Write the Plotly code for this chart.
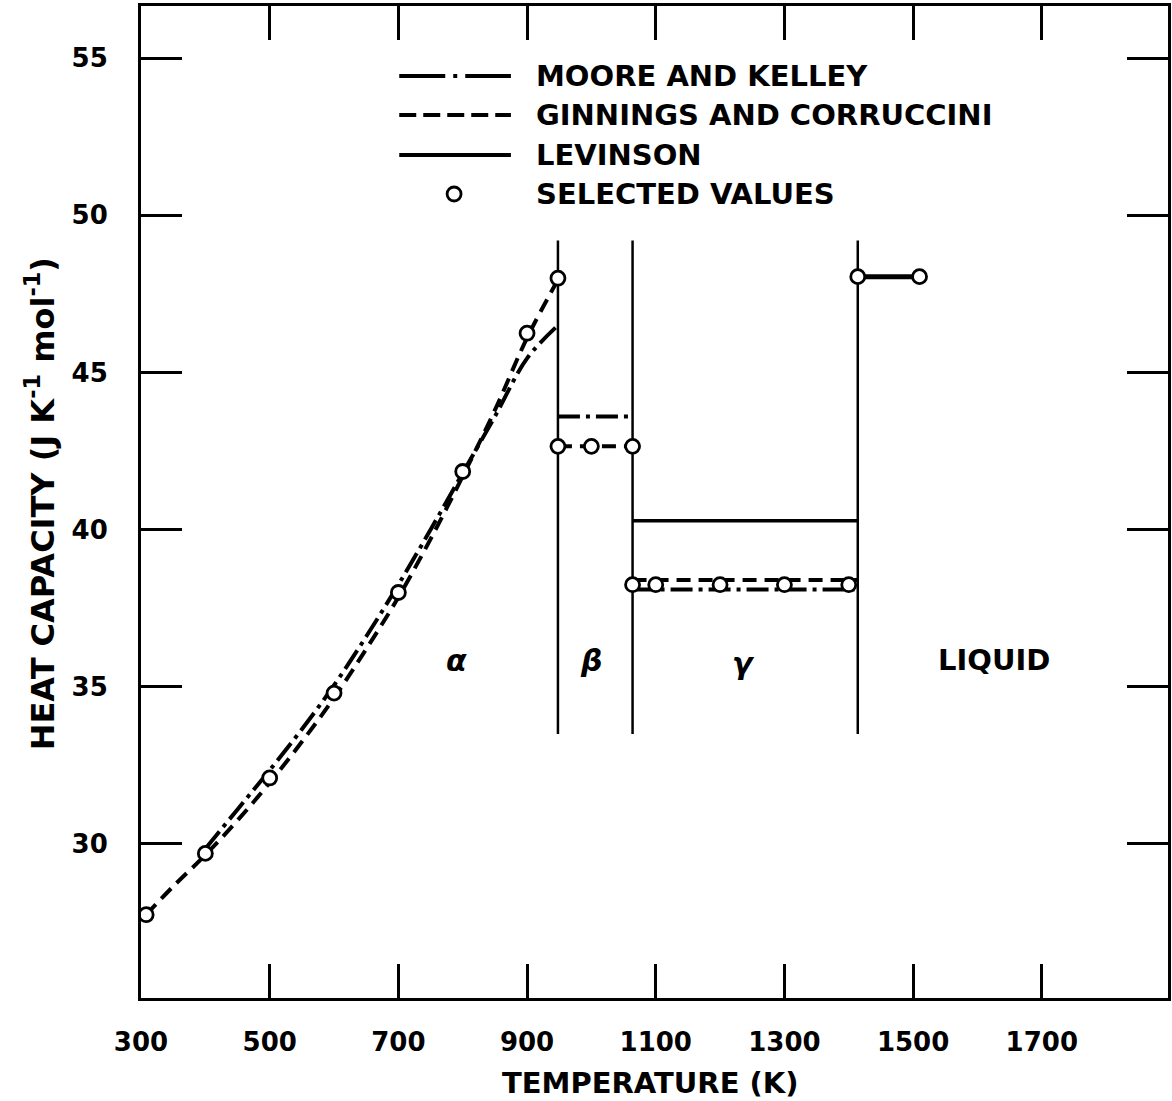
import plotly.graph_objects as go

# Heat capacity of uranium, J K^-1 mol^-1, against temperature (K)

# Selected values by phase
alpha_sel_T = [308, 400, 500, 600, 700, 800, 900, 948]
alpha_sel_cp = [27.75, 29.7, 32.1, 34.8, 38.0, 41.85, 46.25, 48.0]
beta_sel_T = [948, 1000, 1064]
beta_sel_cp = [42.65, 42.65, 42.65]
gamma_sel_T = [1064, 1100, 1200, 1300, 1400]
gamma_sel_cp = [38.25, 38.25, 38.25, 38.25, 38.25]
liquid_sel_T = [1414, 1510]
liquid_sel_cp = [48.05, 48.05]

# Moore and Kelley
mk_alpha_T = [400, 450, 500, 550, 600, 650, 700, 750, 800, 850, 900, 948]
mk_alpha_cp = [29.85, 31.1, 32.35, 33.65, 35.05, 36.6, 38.25, 40.0, 41.8, 43.6, 45.45, 46.5]
mk_beta_T = [948, 1058]
mk_beta_cp = [43.6, 43.6]
mk_gamma_T = [1064, 1414]
mk_gamma_cp = [38.1, 38.1]

# Ginnings and Corruccini
gc_alpha_T = [308, 350, 400, 450, 500, 550, 600, 650, 700, 750, 800, 850, 900, 948]
gc_alpha_cp = [27.75, 28.65, 29.65, 30.75, 31.95, 33.25, 34.65, 36.2, 37.85, 39.7, 41.7, 43.8, 46.1, 47.95]
gc_beta_T = [948, 1064]
gc_beta_cp = [42.65, 42.65]
gc_gamma_T = [1064, 1414]
gc_gamma_cp = [38.4, 38.4]

# Levinson
lev_gamma_T = [1064, 1414]
lev_gamma_cp = [40.28, 40.28]
lev_liquid_T = [1414, 1510]
lev_liquid_cp = [48.05, 48.05]

# Phase transitions and the span of the boundary lines
transition_T = [948, 1064, 1414]
boundary_cp = [33.5, 49.2]

# Phase names and where they are written
phase_names = ["α", "β", "γ", "LIQUID"]
phase_T = [790, 1000, 1236, 1625]
phase_cp = [35.85, 35.85, 35.75, 35.85]

x_ticks = [300, 500, 700, 900, 1100, 1300, 1500, 1700]
y_ticks = [30, 35, 40, 45, 50, 55]

legend_names = ["MOORE AND KELLEY", "GINNINGS AND CORRUCCINI", "LEVINSON", "SELECTED VALUES"]

FONT = "DejaVu Sans"
INK = "black"


def joined(*segments):
    xs, ys = [], []
    for i, (sx, sy) in enumerate(segments):
        if i:
            xs.append(None)
            ys.append(None)
        xs.extend(sx)
        ys.extend(sy)
    return xs, ys


fig = go.Figure()

# Phase boundary lines
bx, by = joined(*[([t, t], boundary_cp) for t in transition_T])
fig.add_trace(go.Scatter(x=bx, y=by, mode="lines",
                         line=dict(color=INK, width=2.5), hoverinfo="skip"))

# Levinson (solid)
fig.add_trace(go.Scatter(x=lev_gamma_T, y=lev_gamma_cp, mode="lines",
                         line=dict(color=INK, width=3.5)))
fig.add_trace(go.Scatter(x=lev_liquid_T, y=lev_liquid_cp, mode="lines",
                         line=dict(color=INK, width=5)))

# Moore and Kelley (dash-dot)
mx, my = joined((mk_alpha_T, mk_alpha_cp), (mk_beta_T, mk_beta_cp), (mk_gamma_T, mk_gamma_cp))
fig.add_trace(go.Scatter(x=mx, y=my, mode="lines", line_shape="spline",
                         line=dict(color=INK, width=4, dash="22px,6px,4px,6px")))

# Ginnings and Corruccini (dashed)
gx, gy = joined((gc_alpha_T, gc_alpha_cp), (gc_beta_T, gc_beta_cp), (gc_gamma_T, gc_gamma_cp))
fig.add_trace(go.Scatter(x=gx, y=gy, mode="lines", line_shape="spline",
                         line=dict(color=INK, width=4, dash="14px,8px")))

# Selected values (open circles)
sx, sy = joined((alpha_sel_T, alpha_sel_cp), (beta_sel_T, beta_sel_cp),
                (gamma_sel_T, gamma_sel_cp), (liquid_sel_T, liquid_sel_cp))
fig.add_trace(go.Scatter(x=sx, y=sy, mode="markers",
                         marker=dict(symbol="circle", size=14, color="white",
                                     line=dict(color=INK, width=2.8))))

# Phase labels
for name, t, cp in zip(phase_names, phase_T, phase_cp):
    single = len(name) == 1
    fig.add_annotation(x=t, y=cp, text=name, showarrow=False,
                       font=dict(family=FONT, size=30 if single else 29, color=INK,
                                 weight="bold", style="italic" if single else "normal"))

# Legend drawn inside the plot area
L, R, T, B = 141, 1171, 6, 998
W, H = R - L, B - T


def px(x):
    return (x - L) / W


def py(y):
    return (B - y) / H


rows_y = [76, 115, 155, 194]
sample_x0, sample_x1, text_x = 400, 512, 535
fig.add_shape(type="line", xref="paper", yref="paper",
              x0=px(sample_x0), x1=px(sample_x1), y0=py(rows_y[0]), y1=py(rows_y[0]),
              line=dict(color=INK, width=4, dash="46px,8px,4px,8px"))
fig.add_shape(type="line", xref="paper", yref="paper",
              x0=px(sample_x0), x1=px(sample_x1), y0=py(rows_y[1]), y1=py(rows_y[1]),
              line=dict(color=INK, width=4, dash="17px,7px"))
fig.add_shape(type="line", xref="paper", yref="paper",
              x0=px(sample_x0), x1=px(sample_x1), y0=py(rows_y[2]), y1=py(rows_y[2]),
              line=dict(color=INK, width=4))
fig.add_shape(type="circle", xref="paper", yref="paper",
              x0=px(448), x1=px(462), y0=py(rows_y[3] + 7), y1=py(rows_y[3] - 7),
              line=dict(color=INK, width=2.8), fillcolor="white")
for name, ry in zip(legend_names, rows_y):
    fig.add_annotation(xref="paper", yref="paper", x=px(text_x), y=py(ry),
                       xanchor="left", yanchor="middle", text=name, showarrow=False,
                       font=dict(family=FONT, size=29, color=INK, weight="bold"))

# Axis titles
fig.add_annotation(xref="paper", yref="paper", x=px(652), y=py(1083),
                   xanchor="center", yanchor="middle",
                   text="TEMPERATURE (K)", showarrow=False,
                   font=dict(family=FONT, size=29, color=INK, weight="bold"))
fig.add_annotation(xref="paper", yref="paper", x=px(40), y=py(504), textangle=-90,
                   xanchor="center", yanchor="middle",
                   text="HEAT CAPACITY (J K<sup>-1</sup> mol<sup>-1</sup>)", showarrow=False,
                   font=dict(family=FONT, size=32, color=INK, weight="bold"))

axis_common = dict(showline=True, linecolor=INK, linewidth=3, mirror="allticks",
                   ticks="inside", tickcolor=INK, tickwidth=3, showgrid=False,
                   zeroline=False,
                   tickfont=dict(family=FONT, size=26, color=INK, weight="bold"))

fig.update_xaxes(range=[300, 300 + W / 0.6453], tickvals=x_ticks,
                 ticktext=[str(v) for v in x_ticks], ticklen=34,
                 ticklabelstandoff=19, **axis_common)
fig.update_yaxes(range=[25.1, 56.66], tickvals=y_ticks,
                 ticktext=[str(v) for v in y_ticks], ticklen=41,
                 ticklabelstandoff=25, **axis_common)

fig.update_layout(width=1172, height=1101, showlegend=False,
                  margin=dict(l=L, r=1172 - R, t=T, b=1101 - B),
                  paper_bgcolor="white", plot_bgcolor="white")

fig.write_html("out.html")
